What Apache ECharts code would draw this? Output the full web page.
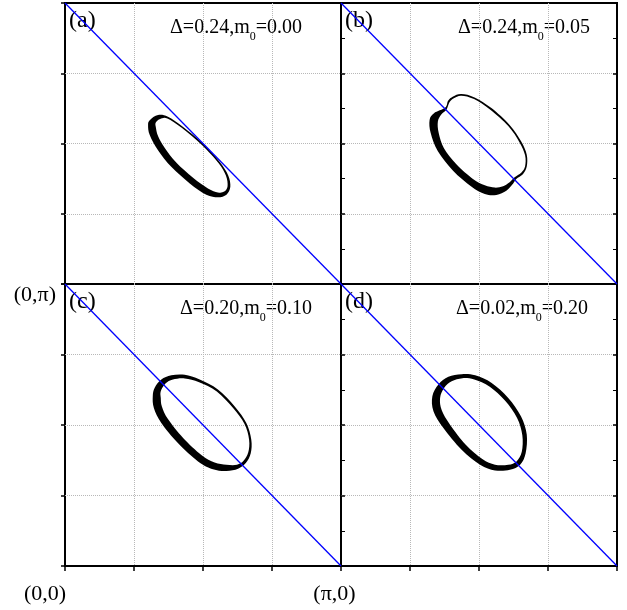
<!DOCTYPE html>
<html>
<head>
<meta charset="utf-8">
<script src="https://cdn.jsdelivr.net/npm/echarts@6/dist/echarts.min.js"></script>
<style>
html, body { margin: 0; padding: 0; background: #fff; }
#chart { width: 627px; height: 610px; }
</style>
</head>
<body>
<div id="chart"></div>
<script>
// panels: (a) top-left, (b) top-right, (c) bottom-left, (d) bottom-right
const panelNames = ['(a)', '(b)', '(c)', '(d)']
const deltaValues = ['0.24', '0.24', '0.20', '0.02']
const m0Values = ['0.00', '0.05', '0.10', '0.20']
const tickValues = [0, 0.25, 0.5, 0.75, 1] // kx, ky in units of pi
const xTickLabels = ['(0,0)', '', '', '', '(π,0)']
const yTickLabels = ['', '', '', '', '(0,π)']
const diagonal = [[0, 1], [1, 0]]

// Fermi surface band: outer and inner edge (kx/pi, ky/pi)
const outerA = [[0.307,0.583],[0.337,0.601],[0.373,0.595],[0.428,0.559],[0.500,0.500],[0.560,0.435],[0.591,0.387],[0.599,0.346],[0.585,0.318],[0.554,0.309],[0.512,0.318],[0.452,0.358],[0.385,0.417],[0.337,0.476],[0.307,0.530],[0.301,0.565]]
const innerA = [[0.329,0.575],[0.345,0.587],[0.371,0.589],[0.424,0.555],[0.496,0.495],[0.556,0.431],[0.583,0.386],[0.589,0.348],[0.577,0.329],[0.554,0.326],[0.518,0.340],[0.464,0.378],[0.403,0.432],[0.361,0.485],[0.337,0.527],[0.329,0.559]]
const outerB = [[0.378,0.628],[0.388,0.652],[0.406,0.667],[0.436,0.676],[0.484,0.664],[0.545,0.626],[0.611,0.566],[0.653,0.507],[0.673,0.460],[0.673,0.418],[0.659,0.391],[0.635,0.374],[0.620,0.353],[0.599,0.332],[0.563,0.317],[0.521,0.320],[0.472,0.347],[0.406,0.403],[0.351,0.472],[0.325,0.537],[0.321,0.584],[0.337,0.608]]
const innerB = [[0.382,0.620],[0.393,0.647],[0.409,0.661],[0.436,0.670],[0.482,0.658],[0.541,0.620],[0.606,0.562],[0.647,0.504],[0.667,0.458],[0.667,0.419],[0.653,0.396],[0.629,0.380],[0.611,0.362],[0.587,0.348],[0.557,0.343],[0.521,0.351],[0.478,0.374],[0.418,0.426],[0.373,0.483],[0.354,0.537],[0.351,0.578],[0.364,0.604]]
const outerC = [[0.325,0.632],[0.349,0.661],[0.385,0.676],[0.434,0.678],[0.488,0.661],[0.554,0.626],[0.615,0.566],[0.657,0.507],[0.675,0.448],[0.673,0.400],[0.655,0.365],[0.627,0.345],[0.585,0.337],[0.536,0.343],[0.482,0.371],[0.409,0.436],[0.349,0.507],[0.322,0.560],[0.318,0.602]]
const innerC = [[0.347,0.620],[0.364,0.647],[0.391,0.661],[0.434,0.665],[0.486,0.652],[0.550,0.619],[0.609,0.560],[0.650,0.504],[0.667,0.448],[0.664,0.403],[0.647,0.373],[0.623,0.359],[0.585,0.359],[0.542,0.367],[0.494,0.394],[0.428,0.454],[0.373,0.521],[0.351,0.566],[0.347,0.596]]
const outerD = [[0.331,0.602],[0.353,0.644],[0.389,0.671],[0.437,0.680],[0.486,0.676],[0.546,0.649],[0.606,0.596],[0.652,0.531],[0.673,0.466],[0.669,0.400],[0.649,0.359],[0.612,0.341],[0.558,0.339],[0.504,0.359],[0.437,0.412],[0.371,0.489],[0.335,0.549]]
const innerD = [[0.359,0.596],[0.374,0.632],[0.401,0.655],[0.440,0.666],[0.483,0.661],[0.539,0.636],[0.594,0.587],[0.638,0.525],[0.657,0.464],[0.655,0.405],[0.636,0.371],[0.606,0.359],[0.558,0.359],[0.512,0.379],[0.452,0.430],[0.395,0.501],[0.365,0.552]]

const outers = [outerA, outerB, outerC, outerD]
const inners = [innerA, innerB, innerC, innerD]

const FONT = 'Liberation Serif'
const panelLeft = [65, 341, 65, 341]
const panelTop = [3, 3, 284, 284]
const annotX = [105, 117, 115, 115]

const myChart = echarts.init(document.getElementById('chart'))

// closed Catmull-Rom curve through the points -> svg path
function closedCurve(pts) {
  const n = pts.length
  let d = 'M' + pts[0][0] + ' ' + pts[0][1]
  for (let i = 0; i < n; i++) {
    const p0 = pts[(i - 1 + n) % n], p1 = pts[i], p2 = pts[(i + 1) % n], p3 = pts[(i + 2) % n]
    const c1x = p1[0] + (p2[0] - p0[0]) / 6, c1y = p1[1] + (p2[1] - p0[1]) / 6
    const c2x = p2[0] - (p3[0] - p1[0]) / 6, c2y = p2[1] - (p3[1] - p1[1]) / 6
    d += ' C' + c1x + ' ' + c1y + ' ' + c2x + ' ' + c2y + ' ' + p2[0] + ' ' + p2[1]
  }
  return d + ' Z'
}
function area(pts) {
  let s = 0
  for (let i = 0; i < pts.length; i++) {
    const a = pts[i], b = pts[(i + 1) % pts.length]
    s += a[0] * b[1] - b[0] * a[1]
  }
  return s
}

const grids = panelLeft.map((l, i) => ({
  left: l, top: panelTop[i], width: 276, height: i < 2 ? 281 : 282,
  show: true, borderColor: '#000', borderWidth: 2, backgroundColor: 'transparent'
}))

const splitLine = {
  show: true, showMinLine: false, showMaxLine: false,
  lineStyle: { color: '#b8b8b8', type: 'dotted', width: 1 }
}

const xAxes = grids.map((g, i) => ({
  gridIndex: i, type: 'value', min: 0, max: 1, interval: 0.25,
  axisLine: { show: false },
  axisTick: { show: i >= 2, length: 5, lineStyle: { color: '#000', width: 1.5 } },
  axisLabel: {
    show: i === 2, interval: 0, margin: 17,
    color: '#000', fontFamily: FONT, fontSize: 22,
    formatter: v => {
      const k = tickValues.indexOf(v)
      if (k === 0) return '{l|' + xTickLabels[k] + '}'
      if (k === 4) return '{r|' + xTickLabels[k] + '}'
      return ''
    },
    rich: {
      l: { fontFamily: FONT, fontSize: 22, color: '#000', padding: [0, 40, 0, 0] },
      r: { fontFamily: FONT, fontSize: 22, color: '#000', padding: [0, 13, 0, 0] }
    }
  },
  splitLine: splitLine
}))

const yAxes = grids.map((g, i) => ({
  gridIndex: i, type: 'value', min: 0, max: 1, interval: 0.25,
  axisLine: { show: false },
  axisTick: { show: true, inside: i % 2 === 1, length: 4, lineStyle: { color: '#000', width: 1.5 } },
  minorTick: { show: i % 2 === 1, splitNumber: 2, length: 4, lineStyle: { color: '#000', width: 1 } },
  axisLabel: {
    show: i === 2, margin: 9, verticalAlign: 'top',
    color: '#000', fontFamily: FONT, fontSize: 22,
    formatter: v => yTickLabels[tickValues.indexOf(v)] || ''
  },
  splitLine: splitLine
}))
// right-hand edges of (b) and (d): small inside ticks only
;[1, 3].forEach(i => {
  yAxes.push({
    gridIndex: i, type: 'value', position: 'right', min: 0, max: 1, interval: 0.25,
    axisLine: { show: false },
    axisTick: { show: true, inside: true, length: 4, lineStyle: { color: '#000', width: 1.5 } },
    minorTick: { show: true, splitNumber: 2, length: 4, lineStyle: { color: '#000', width: 1 } },
    axisLabel: { show: false },
    splitLine: { show: false }
  })
})

const series = []
outers.forEach((outer, i) => {
  series.push({
    type: 'custom', xAxisIndex: i, yAxisIndex: i,
    data: [[0.5, 0.5]], silent: true, z: 2,
    renderItem: (params, api) => {
      const o = outer.map(p => api.coord(p))
      let inn = inners[i].map(p => api.coord(p))
      if (Math.sign(area(o)) === Math.sign(area(inn))) inn = inn.slice().reverse()
      return {
        type: 'path',
        shape: { pathData: closedCurve(o) + ' ' + closedCurve(inn) },
        style: { fill: '#000', stroke: null }
      }
    }
  })
})
outers.forEach((o, i) => {
  series.push({
    type: 'line', xAxisIndex: i, yAxisIndex: i, data: diagonal,
    showSymbol: false, silent: true, z: 3,
    lineStyle: { color: '#0000ff', width: 1.3 }
  })
})

const graphic = []
panelNames.forEach((name, i) => {
  graphic.push({
    type: 'text', left: panelLeft[i] + 4, top: panelTop[i] + 6, silent: true,
    style: { text: name, fill: '#000', font: '24px "Liberation Serif"' }
  })
  graphic.push({
    type: 'text', left: panelLeft[i] + annotX[i], top: panelTop[i] + 15, silent: true,
    style: {
      text: '{a|Δ=' + deltaValues[i] + ',m}{s|0}{a|=' + m0Values[i] + '}',
      rich: {
        a: { fontFamily: FONT, fontSize: 20, fill: '#000', color: '#000' },
        s: { fontFamily: FONT, fontSize: 12, fill: '#000', color: '#000', padding: [18, 0, 0, 0] }
      }
    }
  })
})

const option = {
  animation: false,
  backgroundColor: '#fff',
  grid: grids,
  xAxis: xAxes,
  yAxis: yAxes,
  series: series,
  graphic: graphic
}

myChart.setOption(option)
window.addEventListener('resize', () => myChart.resize())
</script>
</body>
</html>
